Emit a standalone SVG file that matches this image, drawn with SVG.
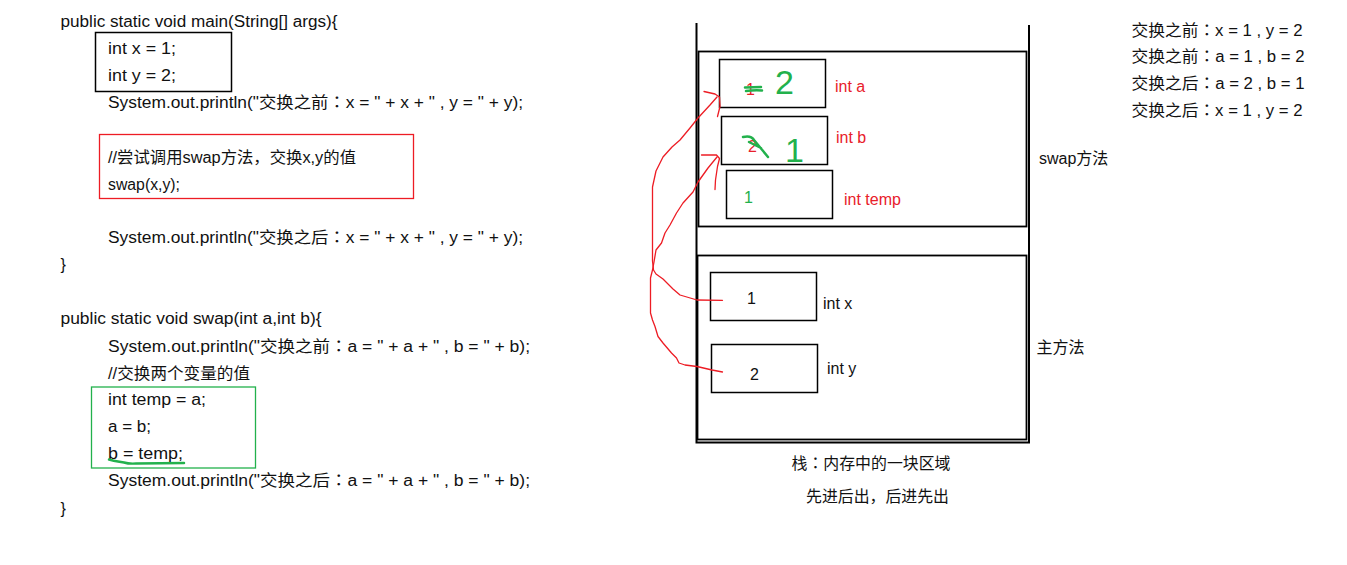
<svg xmlns="http://www.w3.org/2000/svg" width="1347" height="565" viewBox="0 0 1347 565">
<style>
text{font-family:"Liberation Sans","Noto Sans CJK SC",sans-serif;font-size:16px;fill:#111}
.c{font-family:"Noto Sans CJK JP","Noto Sans CJK SC",sans-serif}
.red{fill:#e8202a}
.grn{fill:#22b14c}
.box{fill:none;stroke:#000;stroke-width:1.5}
.frame{fill:none;stroke:#000;stroke-width:1.8}
.hand{fill:none;stroke:#ed1c24;stroke-width:1.3;stroke-linejoin:round;stroke-linecap:round}
.gstroke{fill:none;stroke:#22b14c;stroke-width:2.5;stroke-linecap:round;stroke-linejoin:round}
</style>
<rect width="1347" height="565" fill="#fff"/>

<g id="code-main">
<text x="60.5" y="27" textLength="277" lengthAdjust="spacingAndGlyphs">public static void main(String[] args){</text>
<rect x="95.5" y="32.5" width="136" height="59" class="box"/>
<text x="108" y="54" textLength="68" lengthAdjust="spacingAndGlyphs">int x = 1;</text>
<text x="108" y="80.5" textLength="68" lengthAdjust="spacingAndGlyphs">int y = 2;</text>
<text x="108" y="107.5" textLength="415" lengthAdjust="spacingAndGlyphs">System.out.println("交换之前<tspan class="c">：</tspan>x = " + x + " , y = " + y);</text>
<rect x="99.5" y="134.5" width="314" height="64" fill="none" stroke="#ed1c24" stroke-width="1.3"/>
<text x="108" y="163" textLength="248" lengthAdjust="spacingAndGlyphs">//尝试调用swap方法<tspan class="c">，</tspan>交换x,y的值</text>
<text x="108" y="189.5" textLength="72" lengthAdjust="spacingAndGlyphs">swap(x,y);</text>
<text x="108" y="243" textLength="415" lengthAdjust="spacingAndGlyphs">System.out.println("交换之后<tspan class="c">：</tspan>x = " + x + " , y = " + y);</text>
<text x="60.5" y="270">}</text>
</g>

<g id="code-swap">
<text x="60.5" y="324" textLength="261" lengthAdjust="spacingAndGlyphs">public static void swap(int a,int b){</text>
<text x="108" y="352" textLength="422" lengthAdjust="spacingAndGlyphs">System.out.println("交换之前<tspan class="c">：</tspan>a = " + a + " , b = " + b);</text>
<text x="108" y="378.5" textLength="142" lengthAdjust="spacingAndGlyphs">//交换两个变量的值</text>
<rect x="91.5" y="387" width="164" height="81" fill="none" stroke="#22b14c" stroke-width="1.3"/>
<text x="108" y="405" textLength="98" lengthAdjust="spacingAndGlyphs">int temp = a;</text>
<text x="108" y="432" textLength="43" lengthAdjust="spacingAndGlyphs">a = b;</text>
<text x="108" y="458.5" textLength="75" lengthAdjust="spacingAndGlyphs">b = temp;</text>
<path d="M109,459.5 Q114,461 118,461.5 L124,462.5 Q129,464 136,463.5 L184,463" class="gstroke" stroke-width="2"/>
<text x="108" y="486" textLength="422" lengthAdjust="spacingAndGlyphs">System.out.println("交换之后<tspan class="c">：</tspan>a = " + a + " , b = " + b);</text>
<text x="60.5" y="513.5">}</text>
</g>

<g id="output">
<text x="1131.5" y="35.5" textLength="171" lengthAdjust="spacingAndGlyphs">交换之前<tspan class="c">：</tspan>x = 1 , y = 2</text>
<text x="1131.5" y="62" textLength="173" lengthAdjust="spacingAndGlyphs">交换之前<tspan class="c">：</tspan>a = 1 , b = 2</text>
<text x="1131.5" y="88.5" textLength="173" lengthAdjust="spacingAndGlyphs">交换之后<tspan class="c">：</tspan>a = 2 , b = 1</text>
<text x="1131.5" y="115.5" textLength="171" lengthAdjust="spacingAndGlyphs">交换之后<tspan class="c">：</tspan>x = 1 , y = 2</text>
</g>

<g id="stack">
<path d="M696.5,23 V442.5 H1029 V25" fill="none" stroke="#000" stroke-width="2"/>
<text x="791.5" y="468.5" textLength="159" lengthAdjust="spacingAndGlyphs">栈<tspan class="c">：</tspan>内存中的一块区域</text>
<text x="806" y="501.5" textLength="143" lengthAdjust="spacingAndGlyphs">先进后出<tspan class="c">，</tspan>后进先出</text>
</g>

<g id="frame-swap">
<rect x="698.5" y="51.5" width="328" height="175" class="frame"/>
<text x="1039" y="163.5">swap方法</text>
</g>

<g id="frame-main">
<rect x="697.5" y="255.5" width="329" height="184" class="frame"/>
<text x="1036.5" y="353">主方法</text>
</g>

<g id="var-a">
<rect x="719.5" y="59.5" width="106" height="48" class="box"/>
<text x="746" y="95" class="red" font-size="14">1</text>
<path d="M745,87.5 L761,87 M746,91 Q754,90 762,90.5" class="gstroke" stroke-width="2"/>
<text x="775" y="94" class="grn" style="font-size:34px">2</text>
<text x="835" y="92" class="red">int a</text>
</g>

<g id="var-b">
<rect x="721.5" y="116.5" width="106" height="48" class="box"/>
<text x="748" y="152" class="red" font-size="14">2</text>
<path d="M743,137 Q751,135 754,140 L768,157 M749,142 L761,148" class="gstroke" stroke-width="2"/>
<text x="785" y="162" class="grn" style="font-size:34px">1</text>
<text x="836" y="143" class="red">int b</text>
</g>

<g id="var-temp">
<rect x="726.5" y="170.5" width="106" height="48" class="box"/>
<text x="744" y="203" class="grn">1</text>
<text x="844" y="204.5" class="red">int temp</text>
</g>

<g id="var-x">
<rect x="710.5" y="272.5" width="106" height="48" class="box"/>
<text x="747" y="303.5">1</text>
<text x="823" y="309">int x</text>
</g>

<g id="var-y">
<rect x="711.5" y="344.5" width="106" height="48" class="box"/>
<text x="750" y="379.5">2</text>
<text x="827" y="374">int y</text>
</g>

<g id="connectors">
<path class="hand" d="M722.5,300.3 L697,300 L680,295 L673,289 L663,279 L656,274 L653.5,270 L652.5,261 L652.5,187 L656,171 L663,157 L672,147 L680,140 L690,128 L698,118 L710,105 L717,97"/>
<path class="hand" d="M704,91.5 L715,94 L719.5,97 L720,106.5 L717.5,116.5"/>
<path class="hand" d="M722.5,372 L712,370 L697,366.5 L685,365 L679,363 L676.5,358 L671.5,353 L663,343 L658,336.5 L655,326.5 L652.5,320 L650.5,313 L650.5,278 L652.5,270 L654,262 L656,250 L661.5,243 L665,233 L670,225 L676.5,213 L683,203 L693,192 L698,182 L708,168 L717,157"/>
<path class="hand" d="M701.5,155 L716.5,155 L719.5,158.5 L717.5,166.5 L715.5,180 L715,189.5"/>
</g>
</svg>
